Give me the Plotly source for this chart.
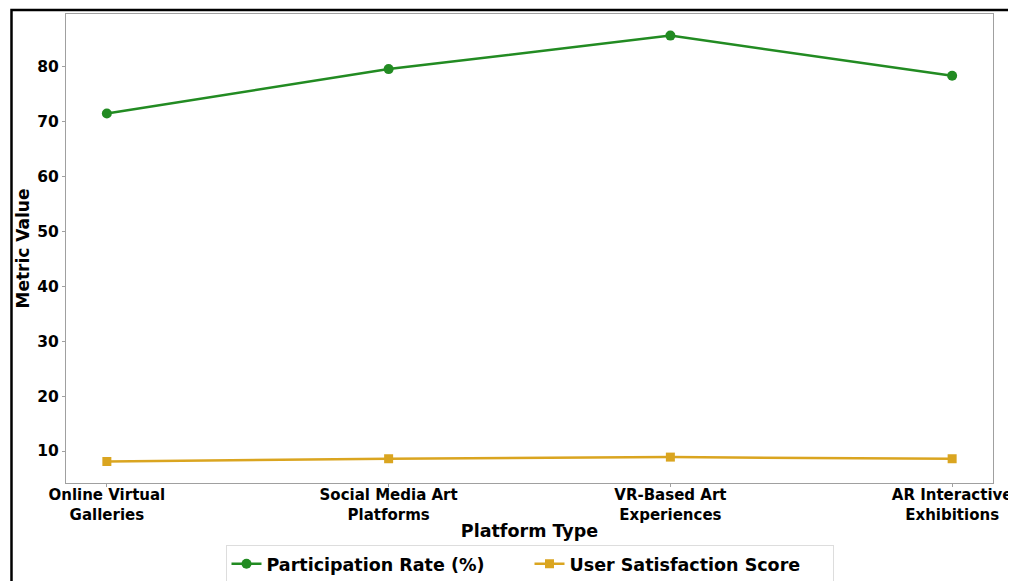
import plotly.graph_objects as go

categories = ["Online Virtual<br>Galleries", "Social Media Art<br>Platforms",
              "VR-Based Art<br>Experiences", "AR Interactive<br>Exhibitions"]
participation = [71.5, 79.6, 85.7, 78.4]
satisfaction = [8.1, 8.6, 8.9, 8.6]

FONT = "DejaVu Sans"
x = list(range(len(categories)))

fig = go.Figure()
fig.add_trace(go.Scatter(
    x=x, y=participation, mode="lines+markers", name="Participation Rate (%)",
    line=dict(color="#228B22", width=2.5),
    marker=dict(symbol="circle", size=10, color="#228B22")))
fig.add_trace(go.Scatter(
    x=x, y=satisfaction, mode="lines+markers", name="User Satisfaction Score",
    line=dict(color="#DAA520", width=2.5),
    marker=dict(symbol="square", size=9, color="#DAA520")))

# page body adds ~8px offset; figure compensated
fig.update_layout(
    width=1008, height=573,
    margin=dict(l=58, r=23, t=6, b=98, autoexpand=False),
    paper_bgcolor="white", plot_bgcolor="white",
    font=dict(family=FONT, color="black", size=15, weight="bold"),
    showlegend=True,
    legend=dict(orientation="h", x=0.5, xanchor="center", y=-0.132, yanchor="top",
                bordercolor="#DDDDDD", borderwidth=1, bgcolor="white",
                font=dict(family=FONT, size=17.5, weight="bold"),
                entrywidth=258, entrywidthmode="pixels"),
)
fig.update_xaxes(
    tickmode="array", tickvals=x, ticktext=categories,
    range=[-0.145, 3.145], automargin=False,
    showgrid=False, zeroline=False,
    showline=True, linecolor="#A0A0A0", linewidth=1, mirror=True,
    ticks="outside", ticklen=3, tickcolor="#A0A0A0",
    ticklabelstandoff=-5, ticklabeloverflow="allow",
    tickfont=dict(family=FONT, size=15, weight="bold"),
    title=dict(text="Platform Type", font=dict(family=FONT, size=17.5, weight="bold"), standoff=2),
)
fig.update_yaxes(
    range=[4.18, 89.64], tickmode="linear", tick0=10, dtick=10, automargin=False,
    showgrid=False, zeroline=False,
    showline=True, linecolor="#A0A0A0", linewidth=1, mirror=True,
    ticks="outside", ticklen=3, tickcolor="#A0A0A0",
    tickfont=dict(family=FONT, size=15.5, weight="bold"),
    title=dict(text="Metric Value", font=dict(family=FONT, size=17, weight="bold"), standoff=3),
)
# outer figure frame
fig.add_shape(type="rect", xref="paper", yref="paper",
              x0=-0.0588, x1=1.06, y0=-0.25, y1=1.0085,
              line=dict(color="black", width=2.5), fillcolor="rgba(0,0,0,0)", layer="above")

fig.write_html("out.html")
